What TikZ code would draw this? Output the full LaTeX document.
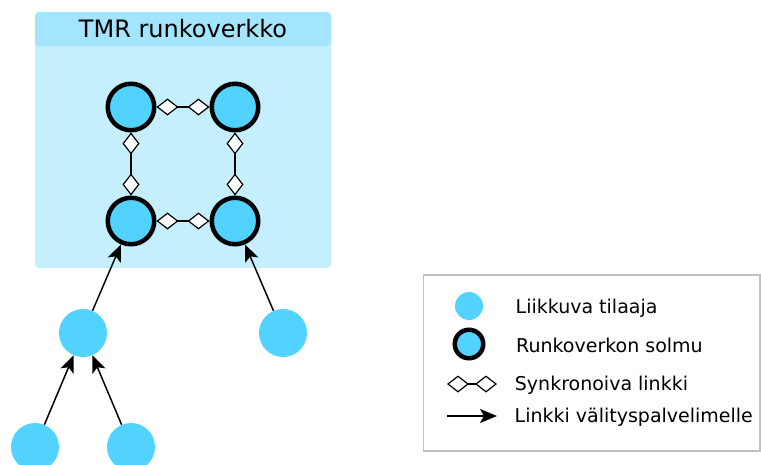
\documentclass[tikz,border=0pt]{standalone}
\usepackage{fontspec}
\setmainfont{DejaVu Sans}
\usetikzlibrary{arrows.meta}
\definecolor{solmufill}{HTML}{52D3FF}
\definecolor{runkofill}{HTML}{C6EFFD}
\definecolor{otsikkofill}{HTML}{A2E5FD}
\definecolor{reunus}{HTML}{C0C0C0}
\tikzset{
	tilaaja/.style={circle, fill=solmufill, inner sep=0pt, minimum size=48pt},
	solmu/.style={tilaaja, draw=black, line width=4.5pt, minimum size=46.5pt},
	timantti/.tip={Diamond[length=22pt, width=17pt, fill=white, line width=1.2pt]},
	synkro/.style={line width=1.5pt, timantti-timantti},
	valitys/.style={line width=1.5pt, -{Stealth[length=17pt, width=14pt, inset=4pt]}},
	selite/.style={anchor=base west, inner sep=0pt, font=\fontsize{19}{23}\selectfont},
}
\begin{document}
\begin{tikzpicture}[x=1pt, y=-1pt]
		\useasboundingbox (0,0) rectangle (761,464);
		% runkoverkon laatikko
		\fill[runkofill, rounded corners=4pt] (35,12) rectangle (331,268);
		\fill[otsikkofill, rounded corners=4pt] (35,46) -- (35,12) -- (331,12) -- (331,46) -- cycle;
		\node[anchor=base, inner sep=0pt, font=\fontsize{24}{28}\selectfont] (otsikko) at (183,37) {TMR runkoverkko};
		% runkoverkon solmut
		\node[solmu] (r11) at (131,107) {};
		\node[solmu] (r12) at (235,107) {};
		\node[solmu] (r21) at (131,221) {};
		\node[solmu] (r22) at (235,221) {};
		\draw[synkro] (r11) -- (r12);
		\draw[synkro] (r21) -- (r22);
		\draw[synkro] (r11) -- (r21);
		\draw[synkro] (r12) -- (r22);
		% tilaajat
		\node[tilaaja] (t1) at (83,333) {};
		\node[tilaaja] (t2) at (283,333) {};
		\node[tilaaja] (t3) at (35,447) {};
		\node[tilaaja] (t4) at (131,447) {};
		\draw[valitys] (t1) -- (r21);
		\draw[valitys] (t2) -- (r22);
		\draw[valitys] (t3) -- (t1);
		\draw[valitys] (t4) -- (t1);
		% selite
		\draw[reunus, line width=1.5pt] (423.5,275) rectangle (760,451);
		\node[tilaaja, minimum size=28pt] (s1) at (469,306) {};
		\node[solmu, minimum size=28.5pt] (s2) at (469,344) {};
		\coordinate (s3a) at (447,384);
		\coordinate (s3b) at (497,384);
		\draw[synkro] (s3a) -- (s3b);
		\coordinate (s4a) at (447,416);
		\coordinate (s4b) at (497,416);
		\draw[valitys] (s4a) -- (s4b);
		\node[selite] (l1) at (515.5,313) {Liikkuva tilaaja};
		\node[selite] (l2) at (516,352) {Runkoverkon solmu};
		\node[selite] (l3) at (514.7,390.5) {Synkronoiva linkki};
		\node[selite] (l4) at (514.5,422.5) {Linkki välityspalvelimelle};
\end{tikzpicture}
\end{document}
